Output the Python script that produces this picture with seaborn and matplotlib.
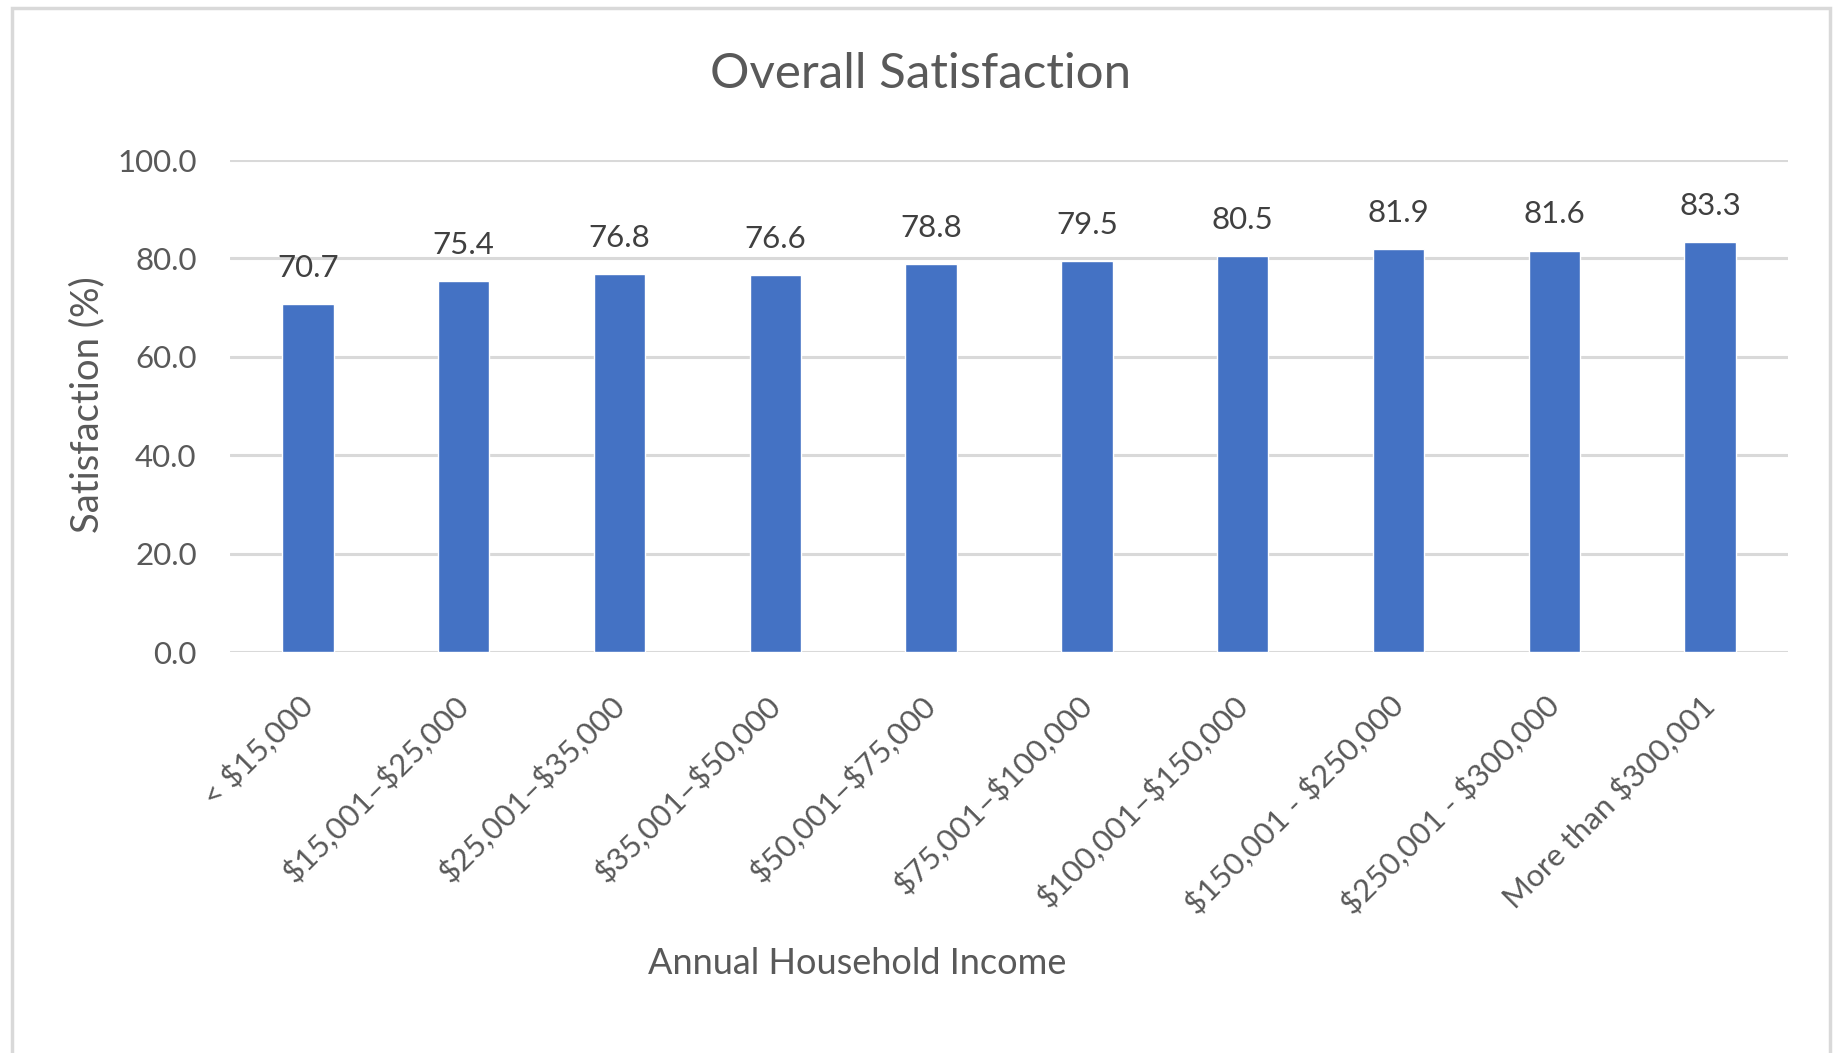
import matplotlib
matplotlib.use("Agg")
import matplotlib.pyplot as plt
import seaborn as sns
import pandas as pd
from matplotlib.patches import Rectangle

# data
income_groups = ["< $15,000", "$15,001–$25,000", "$25,001–$35,000", "$35,001–$50,000",
                 "$50,001–$75,000", "$75,001–$100,000", "$100,001–$150,000",
                 "$150,001 - $250,000", "$250,001 - $300,000", "More than $300,001"]
satisfaction = [70.7, 75.4, 76.8, 76.6, 78.8, 79.5, 80.5, 81.9, 81.6, 83.3]
y_ticks = [0, 20, 40, 60, 80, 100]

sns.set_theme(style="white")
plt.rcParams['font.family'] = ['Lato', 'DejaVu Sans']
plt.rcParams['text.parse_math'] = False

text_color = '#595959'
grid_color = '#D9D9D9'
bar_color = '#4472C4'

df = pd.DataFrame({'income': income_groups, 'satisfaction': satisfaction})

fig = plt.figure(figsize=(18.35, 10.53), dpi=100)
ax = fig.add_axes([230 / 1835, 1 - 652 / 1053, (1788 - 230) / 1835, (652 - 160) / 1053])

sns.barplot(data=df, x='income', y='satisfaction', color=bar_color, width=0.33,
            saturation=1, ax=ax, zorder=3)

ax.set_ylim(0, 100)
ax.set_xlim(-0.5, len(income_groups) - 0.5)
ax.set_yticks(y_ticks)
ax.set_yticklabels([f'{v:.1f}' for v in y_ticks])
ax.yaxis.grid(True, color=grid_color, linewidth=2.2, zorder=0)
ax.set_axisbelow(True)
for s in ax.spines.values():
    s.set_visible(False)

ax.tick_params(axis='y', length=0, pad=24, labelsize=22.5, labelcolor=text_color)
ax.tick_params(axis='x', length=0, pad=35, labelsize=22.5, labelcolor=text_color)
for lbl in ax.get_xticklabels():
    lbl.set_rotation(45)
    lbl.set_ha('right')
    lbl.set_va('center')
    lbl.set_rotation_mode('anchor')

ax.bar_label(ax.containers[0], labels=[f'{v:.1f}' for v in satisfaction],
             padding=16, fontsize=22.5, color='#404040')

ax.set_xlabel('')
ax.set_ylabel('')
fig.text(87 / 1835, 1 - 405 / 1053, 'Satisfaction (%)', rotation=90, ha='center', va='center',
         fontsize=27.5, color=text_color)
fig.text(857 / 1835, 1 - 963 / 1053, 'Annual Household Income', ha='center', va='center',
         fontsize=26, color=text_color)
fig.text(921 / 1835, 1 - 74 / 1053, 'Overall Satisfaction', ha='center', va='center',
         fontsize=35.5, color=text_color)

# chart area border
fig.patches.append(Rectangle((12 / 1835, -0.05), (1830 - 12) / 1835, 1.05 - 8 / 1053,
                             transform=fig.transFigure, fill=False,
                             edgecolor=grid_color, linewidth=2.5))

fig.savefig('out.png', dpi=100)
